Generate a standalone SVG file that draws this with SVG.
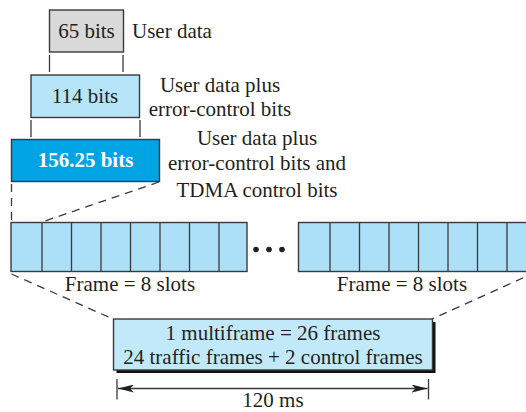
<svg xmlns="http://www.w3.org/2000/svg" width="526" height="412" viewBox="0 0 526 412">
<style>
text{font-family:"Liberation Serif","Times New Roman",serif;font-size:21px;fill:#231f20}
.c{text-anchor:middle}
.box{stroke:#3a3a3a;stroke-width:1.4}
.slot{fill:#acdff8;stroke:#3a3a3a;stroke-width:1.4}
.ln{stroke:#3a3a3a;stroke-width:1.3;fill:none}
.dash{stroke:#3a3a3a;stroke-width:1.3;fill:none;stroke-dasharray:8 6}
</style>
<defs>
<marker id="ah" viewBox="0 0 16 8" refX="16" refY="4" markerWidth="16" markerHeight="8" markerUnits="userSpaceOnUse" orient="auto-start-reverse">
<path d="M0,0 L16,4 L0,8 L4,4 Z" fill="#231f20"/>
</marker>
</defs>
<rect width="526" height="412" fill="#fff"/>

<g id="connectors">
<line class="ln" x1="49.5" y1="55" x2="49.5" y2="72"/>
<line class="ln" x1="123" y1="55" x2="123" y2="72"/>
<line class="ln" x1="31" y1="120" x2="31" y2="137"/>
<line class="ln" x1="140" y1="120" x2="140" y2="137"/>
<line class="dash" x1="11.5" y1="184" x2="11.5" y2="222"/>
<line class="dash" x1="159" y1="182" x2="42" y2="222"/>
<line class="dash" x1="11.5" y1="274" x2="113" y2="319"/>
<line class="dash" x1="536" y1="272" x2="432" y2="319"/>
</g>

<g id="n65">
<rect class="box" x="49.5" y="10" width="74" height="42" fill="#d9d9d9"/>
<text class="c" x="86.5" y="37.5">65 bits</text>
<text x="132" y="37.5">User data</text>
</g>

<g id="n114">
<rect class="box" x="31" y="75" width="108.5" height="42.5" fill="#b6e4f8"/>
<text class="c" x="85" y="102.5">114 bits</text>
<text class="c" x="220" y="92">User data plus</text>
<text class="c" x="220" y="116">error-control bits</text>
</g>

<g id="n156">
<rect class="box" x="11.5" y="139.5" width="148" height="42" fill="#00a3e3"/>
<text class="c" x="85.5" y="167" style="font-weight:bold;fill:#fff">156.25 bits</text>
<text class="c" x="257" y="145">User data plus</text>
<text class="c" x="257" y="170">error-control bits and</text>
<text class="c" x="257" y="196.5">TDMA control bits</text>
</g>

<g id="frame1">
<rect class="slot" x="11" y="222.5" width="236" height="49"/>
<path class="ln" d="M42,222.5V271.5M71.5,222.5V271.5M101,222.5V271.5M130.5,222.5V271.5M160,222.5V271.5M189.5,222.5V271.5M219,222.5V271.5"/>
<text class="c" x="130" y="291">Frame = 8 slots</text>
</g>

<g id="dots">
<circle cx="256" cy="249.5" r="2.8" fill="#231f20"/>
<circle cx="269" cy="249.5" r="2.8" fill="#231f20"/>
<circle cx="282" cy="249.5" r="2.8" fill="#231f20"/>
</g>

<g id="frame2">
<rect class="slot" x="298.5" y="222.5" width="238" height="49"/>
<path class="ln" d="M330,222.5V271.5M359.5,222.5V271.5M389,222.5V271.5M418.5,222.5V271.5M448,222.5V271.5M477.5,222.5V271.5M507,222.5V271.5"/>
<text class="c" x="402" y="291">Frame = 8 slots</text>
</g>

<g id="multiframe">
<rect x="116.5" y="322" width="319" height="51" fill="#111"/>
<rect class="box" x="113.5" y="319" width="319" height="51" fill="#c2e9f9"/>
<text class="c" x="273" y="339.5">1 multiframe = 26 frames</text>
<text class="c" x="273" y="363.5">24 traffic frames + 2 control frames</text>
</g>

<g id="duration">
<line class="ln" x1="117" y1="379" x2="117" y2="399.5"/>
<line class="ln" x1="428.5" y1="379" x2="428.5" y2="399.5"/>
<line class="ln" x1="118" y1="388.5" x2="427.5" y2="388.5" marker-start="url(#ah)" marker-end="url(#ah)"/>
<text class="c" x="273" y="407">120 ms</text>
</g>
</svg>
